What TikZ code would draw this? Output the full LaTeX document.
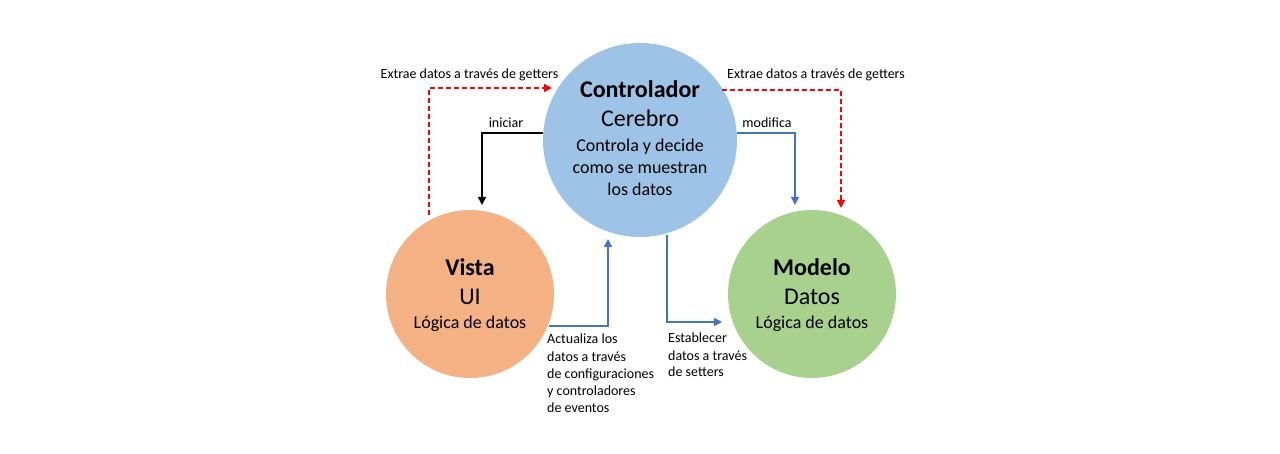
\documentclass[tikz,border=0pt]{standalone}
\usepackage{fontspec}
\setmainfont{Carlito}
\usetikzlibrary{arrows.meta}
\definecolor{ctrlblue}{HTML}{9DC3E6}
\definecolor{vistaor}{HTML}{F4B183}
\definecolor{modgreen}{HTML}{A9D18E}
\definecolor{lineblue}{HTML}{4472C4}
\definecolor{linered}{HTML}{FF0000}
\begin{document}
\begin{tikzpicture}[x=1pt,y=-1pt,
  blob/.style={circle,inner sep=0pt,draw=none},
  big/.style={font=\fontsize{24}{28}\selectfont,anchor=base,inner sep=0pt},
  bigb/.style={font=\bfseries\fontsize{24}{28}\selectfont,anchor=base,inner sep=0pt},
  mid/.style={font=\fontsize{18}{22}\selectfont,anchor=base,inner sep=0pt},
  lab/.style={font=\fontsize{14}{17}\selectfont,anchor=base,inner sep=0pt},
  labw/.style={font=\fontsize{14}{17}\selectfont,anchor=base west,inner sep=0pt},
  tip/.style={-{Triangle[width=8pt,length=8pt]}},
  blueline/.style={tip,draw=lineblue,line width=1.5pt,color=lineblue},
  blackline/.style={tip,draw=black,line width=1.5pt},
  reddash/.style={tip,draw=linered,color=linered,line width=1.5pt,dash pattern=on 5pt off 3pt}
]
\useasboundingbox[fill=white] (0,0) rectangle (1280,454);

% circles
\node[blob,fill=ctrlblue,minimum size=194pt] (ctrl) at (640,140) {};
\node[blob,fill=vistaor,minimum size=168pt] (vista) at (470,294) {};
\node[blob,fill=modgreen,minimum size=168pt] (modelo) at (812,294) {};

% controlador text
\node[bigb] (c1) at (640,98) {Controlador};
\node[big] (c2) at (640,127) {Cerebro};
\node[mid] (c3) at (640,152) {Controla y decide};
\node[mid] (c4) at (640,173.5) {como se muestran};
\node[mid] (c5) at (640,195.5) {los datos};

% vista text
\node[bigb] (v1) at (470,276) {Vista};
\node[big] (v2) at (470,305) {UI};
\node[mid] (v3) at (470,329) {Lógica de datos};

% modelo text
\node[bigb] (m1) at (812,276) {Modelo};
\node[big] (m2) at (812,304.5) {Datos};
\node[mid] (m3) at (812,329) {Lógica de datos};

% end coordinates
\coordinate (vRedStart) at (429,215);
\coordinate (cRedTip) at (552,88);
\coordinate (cRedStart) at (722,90);
\coordinate (mRedTip) at (841,208);
\coordinate (vBlackTip) at (482,205);
\coordinate (mBlueTip) at (795,205);
\coordinate (vBlueStart) at (549,326);
\coordinate (cBlueTip) at (608,239);
\coordinate (cBlueStart) at (667,235);
\coordinate (mBlueTip2) at (722,322);

% connectors
\draw[reddash] (vRedStart) |- (cRedTip);
\draw[reddash] (cRedStart) -| (mRedTip);
\draw[blackline] (ctrl.176.5) -| (vBlackTip);
\draw[blueline] (ctrl.4) -| (mBlueTip);
\draw[blueline] (vBlueStart) -| (cBlueTip);
\draw[blueline] (cBlueStart) |- (mBlueTip2);

% labels
\node[lab] (lRedL) at (469.5,79) {Extrae datos a través de getters};
\node[lab] (lRedR) at (816,78.5) {Extrae datos a través de getters};
\node[lab] (lIni) at (506,128) {iniciar};
\node[lab] (lMod) at (767,128) {modifica};

\node[labw] (a1) at (547,344) {Actualiza los};
\node[labw] (a2) at (547,361) {datos a través};
\node[labw] (a3) at (547,378) {de configuraciones};
\node[labw] (a4) at (547,395) {y controladores};
\node[labw] (a5) at (547,412) {de eventos};

\node[labw] (e1) at (668,343) {Establecer};
\node[labw] (e2) at (668,360) {datos a través};
\node[labw] (e3) at (668,377) {de setters};
\end{tikzpicture}
\end{document}
